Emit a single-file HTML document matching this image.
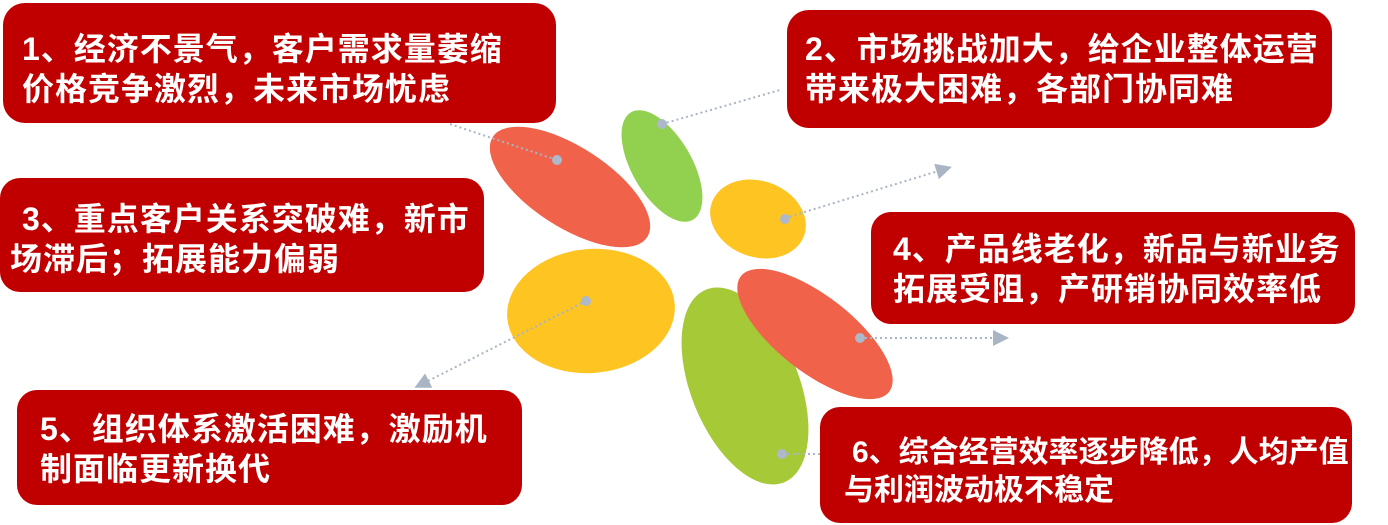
<!DOCTYPE html>
<html><head><meta charset="utf-8"><style>
html,body{margin:0;padding:0;background:#fff;width:1388px;height:525px;overflow:hidden}
svg{display:block}
text{font-family:"Liberation Sans","Noto Sans CJK SC",sans-serif;font-weight:bold;fill:#fff;font-size:32px;letter-spacing:1px}
text.s{font-size:30px;letter-spacing:0}
</style></head><body>
<svg width="1388" height="525" viewBox="0 0 1388 525">
<defs><marker id="a" markerWidth="8" markerHeight="8" refX="6" refY="4" orient="auto"><path d="M0,0 L8,4 L0,8z" fill="#a9b4c4"/></marker></defs>
<rect x="3" y="3" width="553" height="120" rx="22" fill="#c00000"/>
<rect x="787" y="10" width="545" height="118" rx="22" fill="#c00000"/>
<rect x="0" y="178" width="484" height="114" rx="20" fill="#c00000"/>
<rect x="871" y="212" width="484" height="112" rx="20" fill="#c00000"/>
<rect x="17" y="390" width="505" height="115" rx="20" fill="#c00000"/>
<rect x="820" y="407" width="532" height="116" rx="20" fill="#c00000"/>
<ellipse cx="570" cy="187" rx="92" ry="40" transform="rotate(33 570 187)" fill="#f06249"/>
<ellipse cx="662" cy="166" rx="62" ry="30" transform="rotate(60 662 166)" fill="#92d050"/>
<ellipse cx="758" cy="219" rx="49" ry="38" transform="rotate(20 758 219)" fill="#fec421"/>
<ellipse cx="591" cy="311" rx="84" ry="62" transform="rotate(-5 591 311)" fill="#fec421"/>
<ellipse cx="745" cy="386" rx="104" ry="54" transform="rotate(68 745 386)" fill="#a6c937"/>
<ellipse cx="815" cy="334" rx="94" ry="38" transform="rotate(38 815 334)" fill="#f06249"/>
<g stroke="#a9b4c4" stroke-width="2" stroke-dasharray="2,3" fill="none">
<line x1="450" y1="124" x2="557" y2="160"/>
<line x1="662" y1="124" x2="780" y2="90"/>
<line x1="785" y1="218" x2="948" y2="168" marker-end="url(#a)"/>
<line x1="586" y1="301" x2="418" y2="386" marker-end="url(#a)"/>
<line x1="860" y1="338" x2="1005" y2="338" marker-end="url(#a)"/>
<line x1="783" y1="454" x2="820" y2="454"/>
</g>
<g fill="#adb9ca">
<circle cx="557" cy="160" r="5"/><circle cx="662" cy="124" r="5"/><circle cx="785" cy="219" r="5"/>
<circle cx="586" cy="301" r="5"/><circle cx="860" cy="338" r="5"/><circle cx="782" cy="454" r="5"/>
</g>
<text x="22" y="60">1、经济不景气，客户需求量萎缩</text>
<text x="22" y="100">价格竞争激烈，未来市场忧虑</text>
<text x="805" y="60">2、市场挑战加大，给企业整体运营</text>
<text x="805" y="100">带来极大困难，各部门协同难</text>
<text x="22" y="230">3、重点客户关系突破难，新市</text>
<text x="10" y="270">场滞后；拓展能力偏弱</text>
<text x="893" y="260">4、产品线老化，新品与新业务</text>
<text x="893" y="300">拓展受阻，产研销协同效率低</text>
<text x="40" y="440">5、组织体系激活困难，激励机</text>
<text x="40" y="480">制面临更新换代</text>
<text class="s" x="852" y="462">6、综合经营效率逐步降低，人均产值</text>
<text class="s" x="844" y="500">与利润波动极不稳定</text>
</svg>
</body></html>
